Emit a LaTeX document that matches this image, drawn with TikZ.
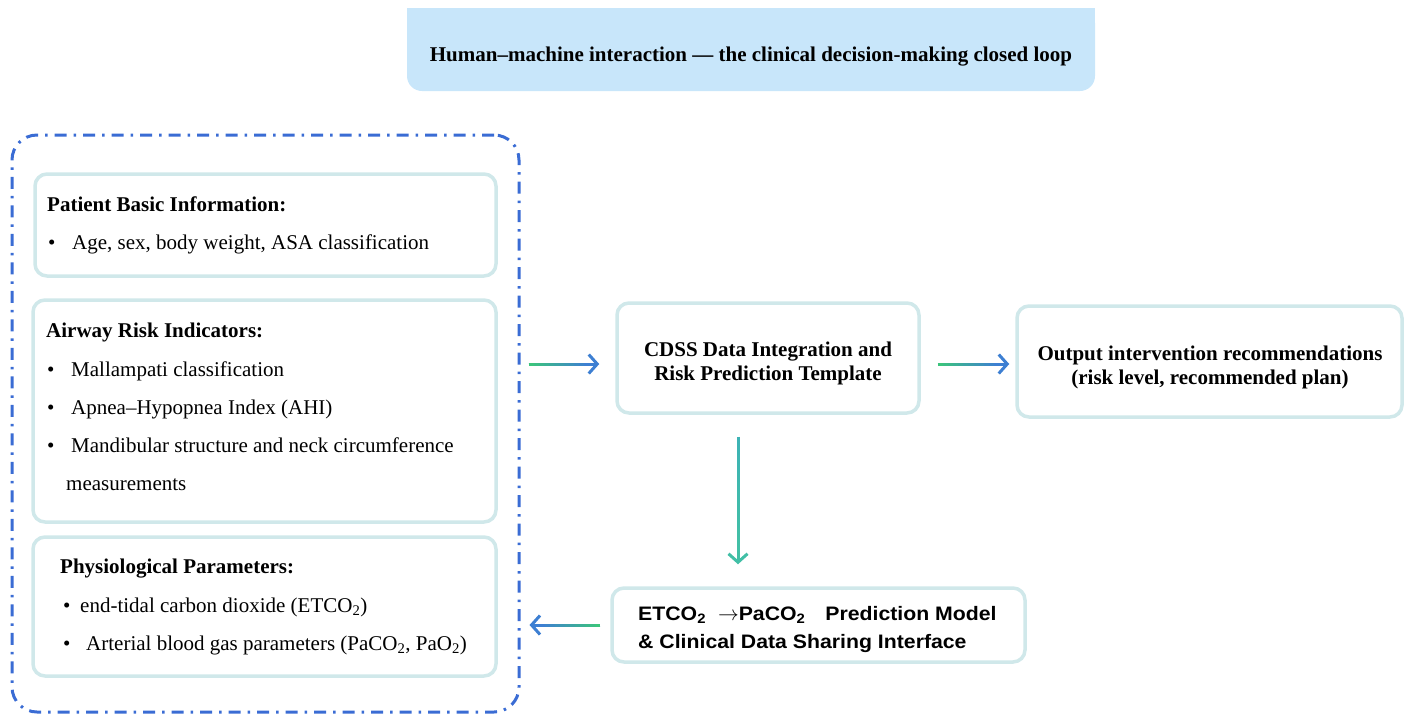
\documentclass[tikz,border=0pt]{standalone}
\usepackage{fontspec}
\setmainfont{Liberation Serif}
\setsansfont{Liberation Sans}
\newfontfamily\widesans[FakeStretch=1.09]{Liberation Sans}
\usetikzlibrary{arrows.meta,calc}
\definecolor{boxline}{HTML}{D0E8EA}
\definecolor{titlefill}{HTML}{C8E6FA}
\definecolor{outerblue}{HTML}{3A6CD4}
\definecolor{gA}{HTML}{3CC47C}
\definecolor{bA}{HTML}{3D7FD2}
\definecolor{tealA}{HTML}{3DB3B5}
\definecolor{tealB}{HTML}{42BFA6}
\newcommand\gradconn[4]{%
  \draw[conn, draw=#4] (#1) -- (#2);
  \foreach \k in {0,...,11}{%
    \pgfmathsetmacro\pa{\k/14}%
    \pgfmathsetmacro\pb{(\k+1.2)/14}%
    \pgfmathtruncatemacro\mx{100-\k*100/11}%
    \draw[line width=3pt, draw=#3!\mx!#4] ($(#1)!\pa!(#2)$) -- ($(#1)!\pb!(#2)$);
  }}
\begin{document}
\begin{tikzpicture}[x=1pt,y=-1pt,
  panel/.style={draw=boxline, line width=3.5pt, rounded corners=12pt, fill=white, inner sep=0pt},
  outerbox/.style={draw=outerblue, line width=3pt, rounded corners=25pt, dash pattern=on 12pt off 7pt on 2.5pt off 7pt, inner sep=0pt},
  txt/.style={anchor=base west, inner sep=0pt, font=\fontsize{21}{25}\selectfont},
  ttl/.style={anchor=base west, inner sep=0pt, font=\fontsize{21}{25}\selectfont\bfseries},
  ctxt/.style={anchor=base, inner sep=0pt, font=\fontsize{21}{25}\selectfont\bfseries},
  stxt/.style={anchor=base west, inner sep=0pt, font=\widesans\fontsize{19.5}{24}\selectfont\bfseries},
  conn/.style={line width=3pt, -{Straight Barb[length=8.5pt,width=19pt]}}]
\useasboundingbox (0,0) rectangle (1408,716);
% title
\fill[titlefill, rounded corners=15pt] (407,8) rectangle (1095,91);
\fill[titlefill] (407,8) rectangle (1095,50);
\node[ctxt] (title) at (751,61) {Human–machine interaction — the clinical decision-making closed loop};
% outer dashed group
\node[outerbox, minimum width=507pt, minimum height=577pt] (outer) at (265.5,423.5) {};
% box 1
\node[panel, minimum width=461pt, minimum height=102pt] (box1) at (265.5,225) {};
\node[ttl] (p1t) at (47,211) {Patient Basic Information:};
\node[txt] (p1b) at (48,249) {•};
\node[txt] (p1a) at (72,249) {Age, sex, body weight, ASA classification};
% box 2
\node[panel, minimum width=463pt, minimum height=222pt] (box2) at (264.5,411) {};
\node[ttl] (p2t) at (46,337) {Airway Risk Indicators:};
\node[txt] (p2b1) at (47,376) {•};
\node[txt] (p2a1) at (71,376) {Mallampati classification};
\node[txt] (p2b2) at (47,414) {•};
\node[txt] (p2a2) at (71,414) {Apnea–Hypopnea Index (AHI)};
\node[txt] (p2b3) at (47,452) {•};
\node[txt] (p2a3) at (71,452) {Mandibular structure and neck circumference};
\node[txt] (p2a4) at (66,490) {measurements};
% box 3
\node[panel, minimum width=463pt, minimum height=139pt] (box3) at (264.5,606.5) {};
\node[ttl] (p3t) at (60,573) {Physiological Parameters:};
\node[txt] (p3b1) at (63,612) {•};
\node[txt] (p3a1) at (80,612) {end-tidal carbon dioxide (ETCO\textsubscript{2})};
\node[txt] (p3b2) at (63,650) {•};
\node[txt] (p3a2) at (86,650) {Arterial blood gas parameters (PaCO\textsubscript{2}, PaO\textsubscript{2})};
% CDSS
\node[panel, minimum width=302pt, minimum height=110pt] (cdss) at (768,358) {};
\node[ctxt] (cdss1) at (768,356) {CDSS Data Integration and};
\node[ctxt] (cdss2) at (768,380) {Risk Prediction Template};
% output
\node[panel, minimum width=385pt, minimum height=111pt] (out) at (1209.5,361.5) {};
\node[ctxt] (out1) at (1210,360) {Output intervention recommendations};
\node[ctxt] (out2) at (1210,384) {(risk level, recommended plan)};
% ETCO2 box
\node[panel, minimum width=413pt, minimum height=74pt] (etco) at (818.5,625) {};
\node[stxt] (et1) at (638,620) {ETCO\textsubscript{2}\hspace{12pt}$\rightarrow$PaCO\textsubscript{2}\hspace{20pt}Prediction Model};
\node[stxt] (et2) at (638,648) {\& Clinical Data Sharing Interface};
% connectors
\coordinate (a1s) at ($(outer.east |- cdss.west)+(8,6)$);
\coordinate (a1e) at ($(cdss.west)+(-16,6)$);
\coordinate (a2s) at ($(cdss.east)+(17,6)$);
\coordinate (a2e) at ($(out.west |- a2s)+(-6,0)$);
\coordinate (a3s) at ($(cdss.south)+(-30,22)$);
\coordinate (a3e) at ($(etco.north -| a3s)+(0,-22)$);
\coordinate (a4s) at ($(etco.west)+(-10,0)$);
\coordinate (a4e) at ($(outer.east |- etco.west)+(9,0)$);
\gradconn{a1s}{a1e}{gA}{bA}
\gradconn{a2s}{a2e}{gA}{bA}
\gradconn{a3s}{a3e}{tealA}{tealB}
\gradconn{a4s}{a4e}{gA}{bA}
\end{tikzpicture}
\end{document}
